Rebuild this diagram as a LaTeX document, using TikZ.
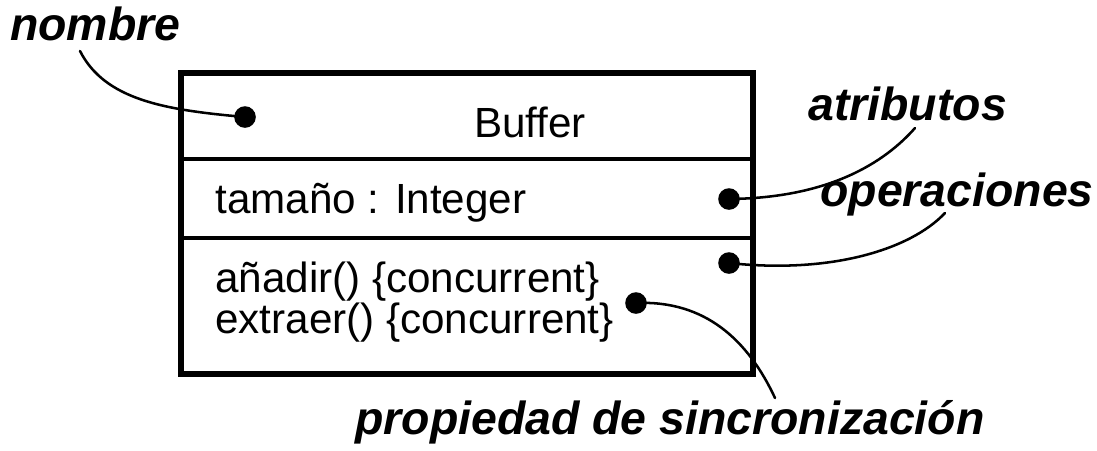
\documentclass[tikz,border=0pt]{standalone}
\usepackage{fontspec}
\setmainfont{Liberation Sans}

\begin{document}
\begin{tikzpicture}[
    x=0.025cm, y=-0.025cm,
    txt/.style={anchor=base west, inner sep=0pt, font=\fontsize{30}{34}\selectfont},
    lbl/.style={anchor=base west, inner sep=0pt, font=\fontsize{33}{38}\selectfont\bfseries\itshape},
    pin/.style={circle, fill=black, inner sep=0pt, minimum size=0.54cm},
    con/.style={line width=1.8pt, line cap=round}
]
\useasboundingbox (0,0) rectangle (1097,450);

% class box
\draw[line width=4.3pt] (181,73) rectangle (753,374);
\draw[line width=2.5pt] (181,159) -- (753,159);
\draw[line width=2.5pt] (181,238) -- (753,238);

\node[txt, anchor=base] (buffer) at (530,137) {Buffer};
\node[txt] (tam) at (215,213) {tamaño : Integer};
\node[txt] (anadir) at (215,292) {añadir() \{concurrent\}};
\node[txt] (extraer) at (215,333) {extraer() \{concurrent\}};

% dots
\node[pin] (pNombre) at (245,117) {};
\node[pin] (pAtrib) at (729,199) {};
\node[pin] (pOper) at (729,263) {};
\node[pin] (pSinc) at (636,303) {};

% labels
\node[lbl] (nombre) at (10,40) {nombre};
\node[lbl] (atrib) at (808,120) {atributos};
\node[lbl] (oper) at (820,206) {operaciones};
\node[lbl] (sinc) at (355,434) {propiedad de sincronización};

\coordinate (eNombre) at (80,51);
\coordinate (eAtrib) at (915,128);
\coordinate (eOper) at (945,213);
\coordinate (eSinc) at (775,398);

\draw[con] (eNombre) .. controls (105,100) and (165,110) .. (pNombre.center);
\draw[con] (pAtrib.center) .. controls (830,198) and (885,162) .. (eAtrib);
\draw[con] (pOper.center) .. controls (830,274) and (910,250) .. (eOper);
\draw[con] (pSinc.center) .. controls (705,300) and (748,340) .. (eSinc);
\end{tikzpicture}
\end{document}
